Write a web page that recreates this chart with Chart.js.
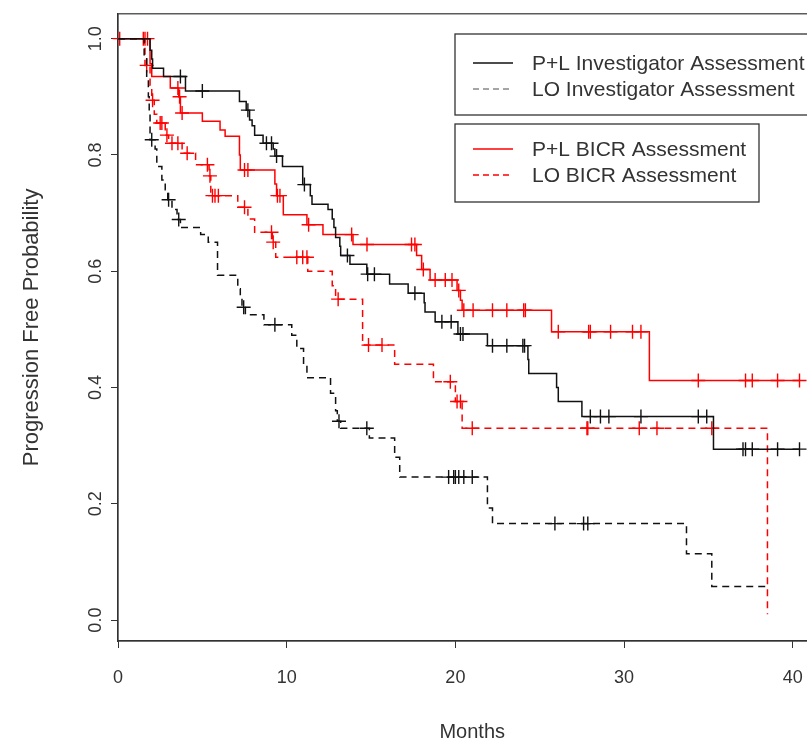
<!DOCTYPE html>
<html>
<head>
<meta charset="utf-8">
<script src="https://cdn.jsdelivr.net/npm/chart.js@4.4.0/dist/chart.umd.min.js"></script>
<style>
html, body { margin: 0; padding: 0; background: #fff; overflow: hidden; }
#wrap { width: 840px; height: 744px; }
</style>
</head>
<body>
<div id="wrap"><canvas id="km" width="840" height="744"></canvas></div>
<script>
// axis ticks
const xTicks = [0, 10, 20, 30, 40];
const yTicks = [0, 0.2, 0.4, 0.6, 0.8, 1.0];
const seriesNames = ['P+L Investigator Assessment', 'LO Investigator Assessment', 'P+L BICR Assessment', 'LO BICR Assessment'];

// P+L Investigator (time in months, survival, 1 = censored)
const plInvTime = [0, 1.9, 2.0, 2.05, 2.7, 3.7, 4.0, 5.0, 7.2, 7.6, 7.7, 7.8, 7.95, 8.1, 8.6, 8.8, 9.1, 9.2, 9.3, 9.4, 9.75, 10.95, 11.05, 11.4, 11.5, 12.45, 12.7, 12.8, 12.9, 13.15, 13.2, 13.6, 13.75, 14.75, 14.8, 15.2, 16.1, 17.2, 17.6, 18.15, 18.2, 18.8, 19.2, 19.75, 20.15, 20.3, 20.45, 21.9, 22.2, 23.05, 24.0, 24.1, 24.3, 24.35, 26.0, 26.1, 27.5, 28.0, 28.6, 29.1, 31.0, 34.4, 34.9, 35.3, 37.05, 37.2, 37.6, 39.1, 40.4];
const plInvSurv = [1, 0.98, 0.965, 0.949, 0.935, 0.935, 0.91, 0.91, 0.892, 0.877, 0.877, 0.86, 0.85, 0.834, 0.82, 0.82, 0.82, 0.81, 0.798, 0.798, 0.78, 0.749, 0.749, 0.73, 0.715, 0.706, 0.69, 0.675, 0.658, 0.643, 0.627, 0.627, 0.612, 0.595, 0.595, 0.595, 0.578, 0.562, 0.562, 0.546, 0.53, 0.513, 0.513, 0.513, 0.492, 0.492, 0.492, 0.472, 0.472, 0.472, 0.472, 0.472, 0.448, 0.424, 0.40, 0.376, 0.35, 0.35, 0.35, 0.35, 0.35, 0.35, 0.35, 0.294, 0.294, 0.294, 0.294, 0.294, 0.294];
const plInvCens = [0,0,0,0,0,1,0,1,0,0, 1,0,0,0,0,1,1,0,0,1, 0,0,1,0,0,0,0,0,0,0, 0,1,0,0,1,1,0,0,1,0, 0,0,1,1,0,1,1,0,1,1, 1,1,0,0,0,0,0,1,1,1, 1,1,1,0,1,1,1,1,1];

// LO Investigator
const loInvTime = [0, 1.55, 1.7, 1.8, 1.85, 1.9, 2.0, 2.2, 2.3, 2.6, 2.8, 2.95, 3.0, 3.2, 3.5, 3.6, 3.7, 4.9, 5.35, 5.9, 7.1, 7.25, 7.35, 7.45, 7.55, 8.65, 9.3, 10.3, 10.6, 11.0, 11.2, 12.6, 12.9, 13.0, 13.1, 13.2, 14.75, 14.9, 16.4, 16.7, 19.6, 19.9, 20.0, 20.2, 20.5, 21.0, 21.9, 22.2, 25.9, 27.6, 27.85, 33.7, 35.2, 38.5];
const loInvSurv = [1, 0.97, 0.93, 0.90, 0.87, 0.826, 0.826, 0.81, 0.78, 0.757, 0.74, 0.723, 0.723, 0.706, 0.689, 0.689, 0.675, 0.663, 0.65, 0.593, 0.57, 0.555, 0.538, 0.538, 0.525, 0.508, 0.508, 0.49, 0.467, 0.44, 0.417, 0.39, 0.36, 0.342, 0.342, 0.33, 0.33, 0.313, 0.28, 0.246, 0.246, 0.246, 0.246, 0.246, 0.246, 0.246, 0.193, 0.166, 0.166, 0.166, 0.166, 0.114, 0.058, 0.058];
const loInvCens = [0,0,0,0,0,0,1,0,0,0, 0,0,1,0,0,1,0,0,0,0, 0,0,0,1,0,0,1,0,0,0, 0,0,0,0,1,0,1,0,0,0, 1,1,1,1,1,1,0,0,1,1, 1,0,0,0];

// P+L BICR
const plBicrTime = [0, 0.1, 1.5, 1.6, 1.75, 1.9, 2.0, 3.1, 3.55, 3.6, 3.65, 3.7, 3.8, 5.0, 6.05, 6.35, 7.2, 7.25, 7.5, 7.7, 9.3, 9.4, 9.45, 9.6, 9.8, 11.2, 11.3, 12.15, 13.85, 13.93, 14.76, 17.4, 17.6, 17.7, 18.0, 18.1, 18.5, 18.8, 19.4, 19.8, 20.1, 20.2, 20.3, 20.4, 20.5, 21.05, 22.2, 23.05, 24.05, 24.15, 25.7, 26.1, 27.9, 28.0, 29.2, 30.5, 31.0, 31.5, 34.4, 37.2, 37.6, 39.1, 40.4];
const plBicrSurv = [1, 1, 1, 1, 1, 0.957, 0.935, 0.915, 0.915, 0.90, 0.90, 0.872, 0.872, 0.858, 0.843, 0.832, 0.80, 0.774, 0.774, 0.774, 0.75, 0.73, 0.73, 0.73, 0.697, 0.68, 0.68, 0.663, 0.663, 0.646, 0.646, 0.646, 0.646, 0.627, 0.603, 0.603, 0.585, 0.585, 0.585, 0.585, 0.567, 0.567, 0.55, 0.533, 0.533, 0.533, 0.533, 0.533, 0.533, 0.533, 0.496, 0.496, 0.496, 0.496, 0.496, 0.496, 0.496, 0.412, 0.412, 0.412, 0.412, 0.412, 0.412];
const plBicrCens = [0,1,1,1,1,0,0,0,1,0, 1,0,1,0,0,0,0,0,1,1, 0,0,1,1,0,0,1,0,1,0, 1,1,1,0,0,1,0,1,1,1, 0,1,0,0,1,1,1,1,1,1, 0,1,1,1,1,1,1,0,1,1, 1,1,1];

// LO BICR
const loBicrTime = [0, 1.6, 1.7, 1.9, 2.0, 2.05, 2.15, 2.3, 2.5, 2.6, 2.8, 2.9, 3.0, 3.2, 3.55, 3.8, 4.1, 4.6, 5.3, 5.4, 5.45, 5.5, 5.6, 5.75, 5.95, 7.1, 7.5, 7.7, 8.1, 9.1, 9.15, 9.2, 9.35, 10.6, 10.95, 11.2, 11.25, 12.7, 12.9, 13.05, 14.5, 14.85, 15.65, 16.4, 18.7, 19.7, 20.0, 20.1, 20.3, 20.4, 21.0, 27.8, 27.85, 30.9, 31.95, 35.2, 38.5];
const loBicrSurv = [1, 0.954, 0.954, 0.92, 0.894, 0.894, 0.87, 0.855, 0.855, 0.855, 0.834, 0.834, 0.82, 0.82, 0.82, 0.803, 0.803, 0.783, 0.783, 0.764, 0.764, 0.73, 0.73, 0.73, 0.73, 0.71, 0.71, 0.69, 0.667, 0.667, 0.65, 0.65, 0.624, 0.624, 0.624, 0.624, 0.60, 0.575, 0.552, 0.552, 0.473, 0.473, 0.473, 0.44, 0.41, 0.41, 0.376, 0.376, 0.376, 0.33, 0.33, 0.33, 0.33, 0.33, 0.33, 0.33, 0.01];
const loBicrCens = [0,0,1,0,0,1,0,0,1,1, 0,1,0,1,1,0,1,0,1,0, 1,0,1,1,1,0,1,0,0,1, 0,1,0,1,1,1,0,0,0,1, 0,1,1,0,0,1,0,1,1,0, 1,1,1,1,1,1,0];

const FONT = '"Liberation Sans", Arial, Helvetica, sans-serif';
const TEXT = '#333333';

function kmDataset(label, times, surv, cens, color, dash) {
    return {
        label: label,
        data: times.map((t, i) => ({ x: t, y: surv[i] })),
        borderColor: color,
        borderWidth: 1.5,
        borderDash: dash,
        stepped: 'before',
        fill: false,
        clip: false,
        pointStyle: 'cross',
        pointRadius: cens.map(c => c ? 7 : 0),
        pointBorderColor: color,
        pointBorderWidth: 1.4,
        pointBackgroundColor: color
    };
}

// frame, rotated y labels and the two R style legend boxes
const kmDecor = {
    id: 'kmDecor',
    afterDraw(chart) {
        const { ctx, chartArea: a, scales: { y } } = chart;
        ctx.save();
        ctx.strokeStyle = '#333';
        ctx.lineWidth = 1.2;
        ctx.strokeRect(a.left, a.top, a.right - a.left, a.bottom - a.top);

        ctx.fillStyle = TEXT;
        ctx.font = '18px ' + FONT;
        ctx.textAlign = 'center';
        ctx.textBaseline = 'middle';
        yTicks.forEach(v => {
            ctx.save();
            ctx.translate(a.left - 22, y.getPixelForValue(v));
            ctx.rotate(-Math.PI / 2);
            ctx.fillText(v.toFixed(1), 0, 0);
            ctx.restore();
        });

        const legendColors = ['#111111', '#888888', '#ff0000', '#ff0000'];
        const legendDash = [[], [6, 4], [], [6, 4]];
        const rows = [63, 89, 149, 175];
        ctx.strokeStyle = '#333';
        ctx.lineWidth = 1.3;
        ctx.strokeRect(455, 34, 420, 81);
        ctx.strokeRect(455, 124, 304, 78);
        ctx.font = '21px ' + FONT;
        ctx.textAlign = 'left';
        seriesNames.forEach((name, i) => {
            ctx.save();
            ctx.strokeStyle = legendColors[i];
            ctx.lineWidth = 1.5;
            ctx.setLineDash(legendDash[i]);
            ctx.beginPath();
            ctx.moveTo(473, rows[i]);
            ctx.lineTo(513, rows[i]);
            ctx.stroke();
            ctx.restore();
            ctx.fillText(name, 532, rows[i] + 1);
        });
        ctx.restore();
    }
};

new Chart(document.getElementById('km'), {
    type: 'line',
    data: {
        datasets: [
            kmDataset(seriesNames[1], loInvTime, loInvSurv, loInvCens, '#111111', [7, 5]),
            kmDataset(seriesNames[0], plInvTime, plInvSurv, plInvCens, '#111111', []),
            kmDataset(seriesNames[3], loBicrTime, loBicrSurv, loBicrCens, '#ff0000', [7, 5]),
            kmDataset(seriesNames[2], plBicrTime, plBicrSurv, plBicrCens, '#ff0000', [])
        ]
    },
    options: {
        responsive: false,
        animation: false,
        events: [],
        layout: { padding: { top: 10, right: 13.5, bottom: 0, left: 0 } },
        plugins: {
            legend: { display: false },
            tooltip: { enabled: false }
        },
        scales: {
            x: {
                type: 'linear',
                min: 0,
                max: 42,
                afterBuildTicks: s => { s.ticks = xTicks.map(v => ({ value: v })); },
                afterFit: s => { s.height = 103; },
                grid: { drawOnChartArea: false, drawTicks: true, tickLength: 7, color: '#333' },
                border: { display: true, color: '#333', width: 1.2 },
                ticks: {
                    color: TEXT,
                    font: { family: FONT, size: 18 },
                    padding: 19,
                    maxRotation: 0,
                    callback: v => String(v)
                },
                title: {
                    display: true,
                    text: 'Months',
                    color: TEXT,
                    font: { family: FONT, size: 20 },
                    padding: { top: 0, bottom: 0 }
                }
            },
            y: {
                type: 'linear',
                min: -0.0359,
                max: 1.0427,
                afterBuildTicks: s => { s.ticks = yTicks.map(v => ({ value: v })); },
                afterFit: s => { s.width = 118; },
                grid: { drawOnChartArea: false, drawTicks: true, tickLength: 7, color: '#333' },
                border: { display: true, color: '#333', width: 1.2 },
                ticks: { color: 'rgba(0,0,0,0)', font: { family: FONT, size: 18 } },
                title: {
                    display: true,
                    text: 'Progression Free Probability',
                    color: TEXT,
                    font: { family: FONT, size: 22 },
                    padding: { top: 19, bottom: 0 }
                }
            }
        }
    },
    plugins: [kmDecor]
});
</script>
</body>
</html>
